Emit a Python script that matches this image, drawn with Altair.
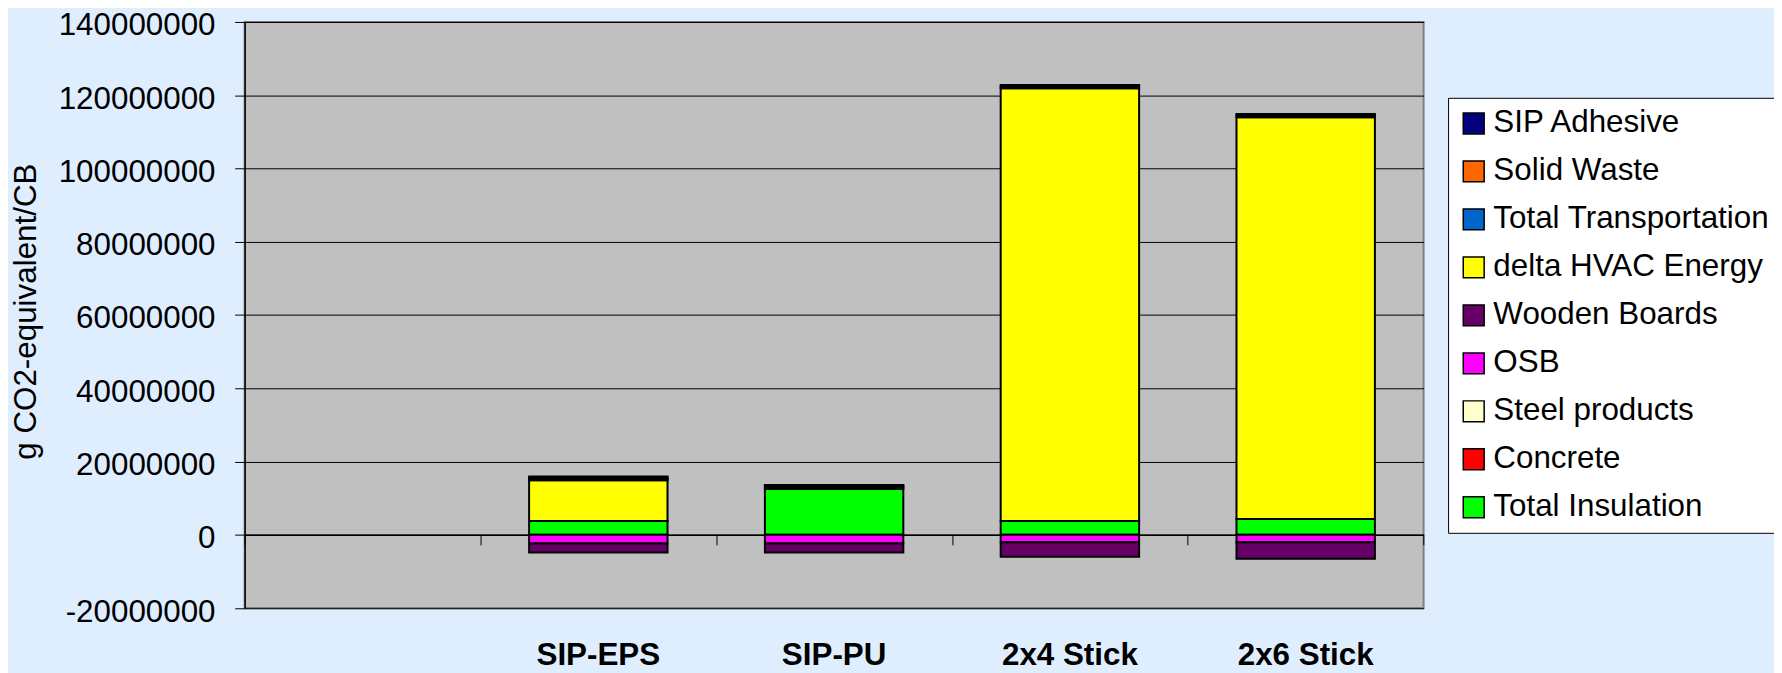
import altair as alt
import pandas as pd

# Category slots on the x axis (the first slot is empty in the original)
slots = [" ", "SIP-EPS", "SIP-PU", "2x4 Stick", "2x6 Stick"]
categories = ["SIP-EPS", "SIP-PU", "2x4 Stick", "2x6 Stick"]

# Series in stacking order (bottom -> top)
series = ["Total Insulation", "Concrete", "Steel products", "OSB", "Wooden Boards",
          "delta HVAC Energy", "Total Transportation", "Solid Waste", "SIP Adhesive"]
series_colors = ["#00FF00", "#FF0000", "#FFFFCC", "#FF00FF", "#660066",
                 "#FFFF00", "#0066CC", "#FF6600", "#000080"]

# Values in g CO2-equivalent/CB, per category
total_insulation = [3.8e6, 12.6e6, 3.8e6, 4.3e6]
concrete = [0, 0, 0, 0]
steel_products = [0, 0, 0, 0]
osb = [-2.4e6, -2.4e6, -2.0e6, -2.0e6]
wooden_boards = [-2.4e6, -2.4e6, -4.0e6, -4.5e6]
delta_hvac = [11.1e6, 0, 118.1e6, 109.7e6]
total_transport = [0.4e6, 0.4e6, 0.5e6, 0.5e6]
solid_waste = [0.3e6, 0.3e6, 0.4e6, 0.4e6]
sip_adhesive = [0.3e6, 0.3e6, 0, 0]

y_ticks = [-20000000, 0, 20000000, 40000000, 60000000, 80000000,
           100000000, 120000000, 140000000]

values = [total_insulation, concrete, steel_products, osb, wooden_boards,
          delta_hvac, total_transport, solid_waste, sip_adhesive]

rows = []
for i, (name, vals) in enumerate(zip(series, values)):
    for cat, v in zip(categories, vals):
        rows.append({"cat": cat, "series": name, "value": v, "idx": i})
df = pd.DataFrame(rows)

legend_order = list(reversed(series))
legend_colors = list(reversed(series_colors))

FONT = "Liberation Sans"
W, H = 1184.3, 588.8
zero_offset = -(H * 20 / 160)

xscale = alt.Scale(domain=slots, paddingInner=0, paddingOuter=0)

bars = alt.Chart(df).mark_bar(
    width=alt.RelativeBandSize(0.587), stroke="black", strokeWidth=2
).encode(
    x=alt.X("cat:N", scale=xscale, sort=slots,
            axis=alt.Axis(orient="bottom", title=None, ticks=False, tickSize=0,
                          domain=False, grid=False, labelAngle=0, labelFont=FONT,
                          labelFontSize=31.5, labelFontWeight="bold",
                          labelColor="black", labelPadding=32)),
    y=alt.Y("value:Q", stack="zero",
            scale=alt.Scale(domain=[-20000000, 140000000], nice=False, zero=False),
            axis=alt.Axis(values=y_ticks, labelExpr="'' + datum.value",
                          labelFont=FONT, labelFontSize=31.5, labelColor="black",
                          labelPadding=19.7, labelOffset=4, tickSize=10,
                          tickColor="black", domainColor="black", domainWidth=1.5,
                          grid=True, gridColor="black", gridWidth=1,
                          title="g CO2-equivalent/CB", titleFont=FONT,
                          titleFontSize=31.5, titleFontWeight="normal",
                          titleColor="black", titleAngle=270, titleX=-210.2,
                          titleY=290.5, titleAlign="center",
                          titleBaseline="alphabetic")),
    color=alt.Color("series:N",
                    scale=alt.Scale(domain=legend_order, range=legend_colors),
                    legend=alt.Legend(orient="none", legendX=1208.9, legendY=76.2,
                                      title=None, fillColor="white",
                                      strokeColor="black", padding=10,
                                      rowPadding=15.2, symbolType="square",
                                      symbolSize=441, symbolStrokeColor="black",
                                      symbolStrokeWidth=1.5, symbolOpacity=1,
                                      labelFont=FONT, labelFontSize=31.5,
                                      labelColor="black", labelLimit=600,
                                      labelOffset=4)),
    order=alt.Order("idx:Q", sort="ascending"),
)

zero_axis = alt.Chart(df).mark_rule(opacity=0).encode(
    x=alt.X("cat:N", sort=slots,
            axis=alt.Axis(orient="bottom", offset=zero_offset, labels=False,
                          ticks=True, tickBand="extent", tickSize=10,
                          tickColor="black", tickWidth=1, domain=True,
                          domainColor="black", domainWidth=1.5, grid=False,
                          title=None)),
)

chart = alt.layer(bars, zero_axis).resolve_axis(x="independent").properties(
    width=W, height=H,
    autosize=alt.AutoSizeParams(type="none"),
    padding={"left": 237.7, "top": 12.5, "right": 352, "bottom": 63.7},
    background="#DFEEFF",
).configure_view(
    fill="#C0C0C0", stroke="#808080", strokeWidth=2
)

chart.save("out.html", embed_options={"renderer": "svg", "actions": False})
